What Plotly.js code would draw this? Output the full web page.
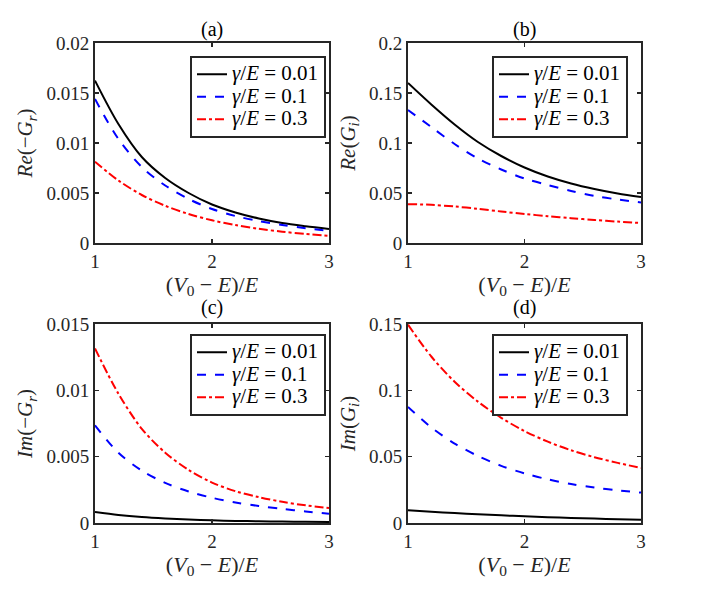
<!DOCTYPE html>
<html>
<head>
<meta charset="utf-8">
<script src="https://cdn.plot.ly/plotly-3.0.1.min.js"></script>
<style>html,body{margin:0;padding:0;background:#fff;}#chart{width:708px;height:590px;}</style>
</head>
<body>
<div id="chart"></div>
<script>
// x values (V0 - E)/E
const xVals = [1, 1.2, 1.4, 1.6, 1.8, 2.0, 2.2, 2.4, 2.6, 2.8, 3.0];
const seriesNames = ['<i>γ</i>/<i>E</i> = 0.01', '<i>γ</i>/<i>E</i> = 0.1', '<i>γ</i>/<i>E</i> = 0.3'];
const panelLabels = ['(a)', '(b)', '(c)', '(d)'];
const yTitles = ['<i>Re</i>(−<i>G<sub>r</sub></i>)', '<i>Re</i>(<i>G<sub>i</sub></i>)', '<i>Im</i>(−<i>G<sub>r</sub></i>)', '<i>Im</i>(<i>G<sub>i</sub></i>)'];
const xTitle = '(<i>V</i><sub>0</sub> − <i>E</i>)/<i>E</i>';
const xTicks = [1, 2, 3];

// (a) Re(-Gr)
const reGr_001 = [0.01624, 0.0119, 0.0086, 0.0065, 0.0050, 0.00385, 0.00305, 0.00245, 0.0020, 0.00168, 0.00141];
const reGr_01  = [0.0144, 0.0104, 0.0076, 0.00575, 0.0044, 0.0034, 0.0027, 0.0022, 0.0018, 0.00148, 0.00121];
const reGr_03  = [0.00812, 0.00625, 0.0048, 0.00372, 0.0029, 0.00227, 0.00179, 0.00142, 0.00113, 0.0009, 0.00072];
// (b) Re(Gi)
const reGi_001 = [0.160, 0.1385, 0.1185, 0.101, 0.087, 0.0755, 0.0665, 0.0595, 0.054, 0.0495, 0.046];
const reGi_01  = [0.133, 0.116, 0.099, 0.0845, 0.0735, 0.0645, 0.058, 0.052, 0.047, 0.0435, 0.0405];
const reGi_03  = [0.0388, 0.0382, 0.0365, 0.0342, 0.0315, 0.029, 0.0268, 0.0248, 0.023, 0.0214, 0.020];
// (c) Im(-Gr)
const imGr_001 = [0.00083, 0.00061, 0.00045, 0.00034, 0.00026, 0.0002, 0.00016, 0.00013, 0.00011, 0.00009, 0.00008];
const imGr_01  = [0.00736, 0.0053, 0.00395, 0.00302, 0.00238, 0.0019, 0.00155, 0.00128, 0.00106, 0.00087, 0.0007];
const imGr_03  = [0.01315, 0.00975, 0.0071, 0.0053, 0.0040, 0.00305, 0.0024, 0.00195, 0.0016, 0.00133, 0.00113];
// (d) Im(Gi)
const imGi_001 = [0.0097, 0.0085, 0.0075, 0.0066, 0.0058, 0.005, 0.0044, 0.0038, 0.0033, 0.0029, 0.0025];
const imGi_01  = [0.0875, 0.072, 0.0599, 0.0505, 0.0431, 0.0374, 0.0329, 0.0294, 0.0267, 0.0246, 0.0229];
const imGi_03  = [0.1495, 0.1255, 0.1065, 0.0915, 0.0793, 0.0693, 0.0613, 0.0548, 0.0496, 0.0453, 0.0415];

const yRanges = [[0, 0.02], [0, 0.2], [0, 0.015], [0, 0.15]];
const yDticks = [0.005, 0.05, 0.005, 0.05];

const panelData = [
  [reGr_001, reGr_01, reGr_03],
  [reGi_001, reGi_01, reGi_03],
  [imGr_001, imGr_01, imGr_03],
  [imGi_001, imGi_01, imGi_03]
];

const W = 708, H = 590;
// plot boxes in pixels: [left, right, top, bottom]
const boxes = [[95, 329, 43, 243], [408, 641, 43, 243], [95, 329, 324, 523], [408, 641, 324, 523]];
const legendRight = [326, 628, 326, 628];
const legendTop = [56, 56, 334, 334];
const labelCenterY = [30, 30, 307, 307];

const colors = ['#000000', '#0000ff', '#ff0000'];
const dashes = ['solid', 'dash', 'dashdot'];
const FONT = 'Liberation Serif, Times New Roman, serif';
const INK = '#262626';

const traces = [];
const layout = {
  width: W, height: H,
  margin: {l: 0, r: 0, t: 0, b: 0},
  paper_bgcolor: '#ffffff', plot_bgcolor: '#ffffff',
  font: {family: FONT, size: 19, color: INK},
  showlegend: true,
  annotations: []
};

for (let p = 0; p < 4; p++) {
  const ax = p === 0 ? '' : String(p + 1);
  const legendId = p === 0 ? 'legend' : 'legend' + (p + 1);
  for (let s = 0; s < 3; s++) {
    traces.push({
      type: 'scatter', mode: 'lines',
      x: xVals, y: panelData[p][s],
      name: '<span style="font-size:21px">' + seriesNames[s] + '</span>',
      xaxis: 'x' + ax, yaxis: 'y' + ax,
      legend: legendId,
      line: {color: colors[s], width: 2, dash: dashes[s], shape: 'spline', smoothing: 0.9}
    });
  }
  const b = boxes[p];
  layout['xaxis' + ax] = {
    domain: [b[0] / W, b[1] / W],
    anchor: 'y' + ax,
    range: [1, 3],
    tickvals: xTicks,
    ticktext: xTicks.map(String),
    ticks: 'inside', ticklen: 4, tickwidth: 1.5, tickcolor: INK,
    showline: true, linewidth: 2, linecolor: INK, mirror: 'allticks',
    showgrid: false, zeroline: false,
    tickfont: {family: FONT, size: 19, color: INK},
    title: {text: xTitle, font: {family: FONT, size: 22, color: INK}, standoff: 4}
  };
  layout['yaxis' + ax] = {
    domain: [1 - b[3] / H, 1 - b[2] / H],
    anchor: 'x' + ax,
    range: yRanges[p],
    dtick: yDticks[p], tick0: 0,
    ticks: 'inside', ticklen: 4, tickwidth: 1.5, tickcolor: INK,
    showline: true, linewidth: 2, linecolor: INK, mirror: 'allticks',
    showgrid: false, zeroline: false,
    tickfont: {family: FONT, size: 19, color: INK},
    title: {text: yTitles[p], font: {family: FONT, size: 21, color: INK}, standoff: 8}
  };
  layout[legendId] = {
    x: legendRight[p] / W, xanchor: 'right',
    y: 1 - legendTop[p] / H, yanchor: 'top',
    bgcolor: '#ffffff', bordercolor: INK, borderwidth: 2,
    font: {family: FONT, size: 15, color: '#000000'},
    itemwidth: 30, tracegroupgap: 0
  };
  layout.annotations.push({
    xref: 'paper', yref: 'paper',
    x: (b[0] + b[1]) / 2 / W, y: 1 - labelCenterY[p] / H,
    xanchor: 'center', yanchor: 'middle',
    text: panelLabels[p], showarrow: false,
    font: {family: FONT, size: 20, color: '#000000'}
  });
}

Plotly.newPlot('chart', traces, layout, {staticPlot: true, displayModeBar: false});
</script>
</body>
</html>
